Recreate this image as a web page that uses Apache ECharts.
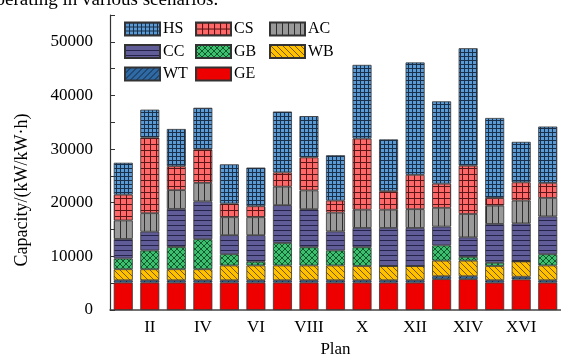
<!DOCTYPE html>
<html>
<head>
<meta charset="utf-8">
<script src="https://cdn.jsdelivr.net/npm/echarts@6/dist/echarts.min.js"></script>
<style>html,body{margin:0;padding:0;background:#fff;}#c{width:561px;height:363px;}</style>
</head>
<body>
<div id="c"></div>
<script>
var categories = ['I','II','III','IV','V','VI','VII','VIII','IX','X','XI','XII','XIII','XIV','XV','XVI','XVII'];
var GE = [5100,5100,5100,5100,5100,5100,5100,5100,5100,5100,5100,5100,5750,5750,5100,5700,5100];
var WT = [450,450,450,450,450,450,450,450,450,450,450,450,550,550,450,500,450];
var WB = [2050,2050,2050,2050,2750,2750,2750,2750,2750,2650,2650,2650,2900,2900,2650,2850,2750];
var GB = [2000,3500,4150,5600,2100,700,4200,3400,2800,3500,0,0,2850,700,600,0,2100];
var CC = [3650,3500,7100,7050,3550,4950,7050,7100,3550,3600,7100,7100,3500,3650,7250,7100,7050];
var AC = [3450,3450,3500,3450,3350,3350,3450,3500,3500,3400,3400,3500,3500,4350,3400,4250,3450];
var CS = [4800,14100,4450,6250,2550,2050,2650,6150,2250,13250,3450,6400,4500,9000,1450,3400,2800];
var HS = [5950,5200,6950,7750,7300,7200,11350,7700,8450,13750,9650,20950,15350,21900,14900,7550,10500];
var yTicks = [0,10000,20000,30000,40000,50000];

function pat(size, bg, line, draw) {
  var c = document.createElement('canvas');
  c.width = size; c.height = size;
  var g = c.getContext('2d');
  g.fillStyle = bg; g.fillRect(0,0,size,size);
  g.strokeStyle = line; g.lineWidth = 1;
  draw(g, size);
  return {image: c, repeat: 'repeat'};
}
function grid(g,s){g.beginPath();g.moveTo(0.5,0);g.lineTo(0.5,s);g.moveTo(0,0.5);g.lineTo(s,0.5);g.stroke();}
function vert(g,s){g.beginPath();g.moveTo(0.5,0);g.lineTo(0.5,s);g.stroke();}
function horiz(g,s){g.beginPath();g.moveTo(0,0.5);g.lineTo(s,0.5);g.stroke();}
function back(g,s){g.beginPath();g.moveTo(0,0);g.lineTo(s,s);g.moveTo(-s,0);g.lineTo(s,2*s);g.moveTo(0,-s);g.lineTo(2*s,s);g.stroke();}
function fwd(g,s){g.beginPath();g.moveTo(0,s);g.lineTo(s,0);g.moveTo(-s,s);g.lineTo(s,-s);g.moveTo(0,2*s);g.lineTo(2*s,0);g.stroke();}
function cross(g,s){back(g,s);fwd(g,s);}

var styles = {
  GE: '#ee0000',
  WT: pat(6,'#2f6aa5','#10263f',fwd),
  WB: pat(6,'#ffc000','#7a5800',back),
  GB: pat(6,'#3cc070','#125a2c',cross),
  CC: pat(5,'#605c98','#25234a',horiz),
  AC: pat(6,'#999999','#2e2e2e',vert),
  CS: pat(6,'#ff6868','#5a1616',grid),
  HS: pat(4,'#5b9bd5','#1a2f4a',grid)
};
var seriesData = {GE:GE,WT:WT,WB:WB,GB:GB,CC:CC,AC:AC,CS:CS,HS:HS};
var order = ['GE','WT','WB','GB','CC','AC','CS','HS'];
var series = order.map(function(n){
  return {
    name: n, type: 'bar', stack: 'total', barWidth: 19,
    data: seriesData[n],
    itemStyle: {color: styles[n], borderColor: '#333', borderWidth: 0.8},
    emphasis: {disabled: true}
  };
});

var font = 'Liberation Serif, Times New Roman, serif';
function legendCol(left, names){
  return {
    orient: 'vertical', left: left, top: 16, itemWidth: 35, itemHeight: 13, itemGap: 6.5,
    icon: 'rect',
    data: names, textStyle: {fontFamily: font, fontSize: 16, color: '#000', padding: [0,0,0,-2]},
    selectedMode: false
  };
}

var chart = echarts.init(document.getElementById('c'), null, {renderer: 'canvas'});
chart.setOption({
  animation: false,
  backgroundColor: '#fff',
  grid: {left: 110, right: -2, top: 15, bottom: 50.5},
  legend: [legendCol(119, ['HS','CC','WT']), legendCol(190, ['CS','GB','GE']), legendCol(264, ['AC','WB'])],
  graphic: [
    {type: 'text', left: -14, top: -9, style: {text: 'operating in various scenarios.', font: '19px ' + font, fill: '#000'}},
    {type: 'text', x: 22, y: 190, rotation: Math.PI/2, style: {text: 'Capacity/(kW/kW·h)', font: '18px ' + font, fill: '#000', align: 'center', verticalAlign: 'middle'}}
  ],
  xAxis: {
    type: 'category', data: categories,
    name: 'Plan', nameLocation: 'middle', nameGap: 31,
    nameTextStyle: {fontFamily: font, fontSize: 17, color: '#000'},
    axisLine: {lineStyle: {color: '#444', width: 1.5}},
    axisTick: {inside: true, length: 3, alignWithLabel: true, interval: 0, lineStyle: {color: '#333'}},
    axisLabel: {interval: function(i){return i % 2 === 1;}, margin: 9, fontFamily: font, fontSize: 17, color: '#000'}
  },
  yAxis: {
    type: 'value', min: 0, max: 55000, interval: 5000,
    axisLine: {show: true, lineStyle: {color: '#333', width: 1.2}},
    axisTick: {show: true, inside: true, length: 5, lineStyle: {color: '#333'}},
    splitLine: {show: false},
    axisLabel: {margin: 17, fontFamily: font, fontSize: 17, color: '#000',
      formatter: function(v){ return yTicks.indexOf(v) >= 0 ? String(v) : ''; }}
  },
  series: series
});
</script>
</body>
</html>
